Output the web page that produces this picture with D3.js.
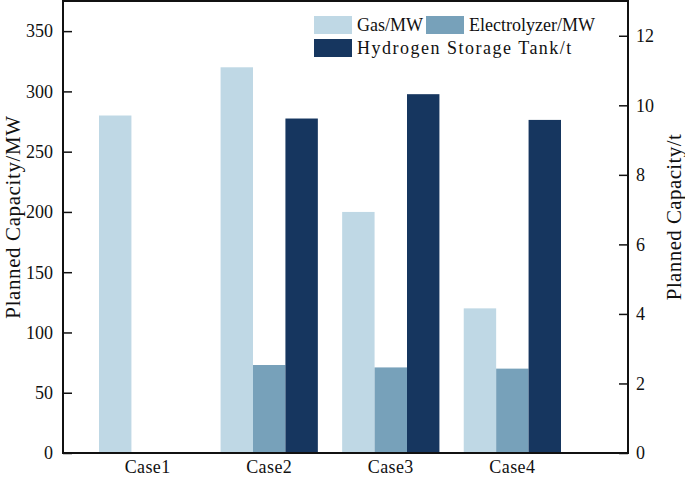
<!DOCTYPE html>
<html>
<head>
<meta charset="utf-8">
<script src="https://cdn.jsdelivr.net/npm/d3@7"></script>
<style>
  body { margin: 0; background: #fff; }
  text { font-family: "Liberation Serif", "Times New Roman", serif; fill: #111; }
</style>
</head>
<body>
<div id="chart"></div>
<script>
const cases = ["Case1", "Case2", "Case3", "Case4"]
const gasMW = [280, 320, 200, 120]
const electrolyzerMW = [0, 73, 71, 70]
const hydrogenTankT = [0, 9.62, 10.32, 9.58]
const seriesNames = ["Gas/MW", "Electrolyzer/MW", "Hydrogen Storage Tank/t"]
const leftTicks = [0, 50, 100, 150, 200, 250, 300, 350]
const rightTicks = [0, 2, 4, 6, 8, 10, 12]

const W = 685, H = 478
const plot = { left: 63, right: 628, top: 1, bottom: 453 }
const colors = ["#bfd8e5", "#77a1ba", "#16365f"]

const svg = d3.select("#chart").append("svg")
    .attr("width", W)
    .attr("height", H)

const x0 = d3.scaleBand()
    .domain(cases)
    .range([99, 561])
    .paddingInner(0.2)
    .paddingOuter(0)

const x1 = d3.scaleBand()
    .domain(seriesNames)
    .range([0, x0.bandwidth()])

const yLeft = d3.scaleLinear().domain([0, 375]).range([plot.bottom, plot.top])
const yRight = d3.scaleLinear().domain([0, 13]).range([plot.bottom, plot.top])

// rows for the bars, hydrogen goes on the right axis
const rows = []
cases.forEach((c, i) => {
    rows.push({ c, s: seriesNames[0], v: gasMW[i], y: yLeft, k: 0 })
    rows.push({ c, s: seriesNames[1], v: electrolyzerMW[i], y: yLeft, k: 1 })
    rows.push({ c, s: seriesNames[2], v: hydrogenTankT[i], y: yRight, k: 2 })
})

svg.append("g").selectAll("rect")
    .data(rows.filter(d => d.v > 0))
    .enter()
        .append("rect")
            .attr("x", d => x0(d.c) + x1(d.s))
            .attr("width", x1.bandwidth())
            .attr("y", d => d.y(d.v))
            .attr("height", d => plot.bottom - d.y(d.v))
            .attr("fill", d => colors[d.k])

// left axis, ticks inward
const leftAxis = svg.append("g")
    .attr("transform", `translate(${plot.left},0)`)
    .call(d3.axisRight(yLeft).tickValues(leftTicks).tickSize(9).tickFormat(""))
leftAxis.select(".domain").remove()
leftAxis.selectAll("line").attr("stroke", "#111").attr("stroke-width", 1.5)

svg.append("g").selectAll("text")
    .data(leftTicks)
    .enter()
        .append("text")
            .attr("x", plot.left - 10)
            .attr("y", d => yLeft(d))
            .attr("dy", "0.35em")
            .attr("text-anchor", "end")
            .attr("font-size", 18)
            .text(d => d)

const rightAxis = svg.append("g")
    .attr("transform", `translate(${plot.right},0)`)
    .call(d3.axisLeft(yRight).tickValues(rightTicks).tickSize(9).tickFormat(""))
rightAxis.select(".domain").remove()
rightAxis.selectAll("line").attr("stroke", "#111").attr("stroke-width", 1.5)

svg.append("g").selectAll("text")
    .data(rightTicks)
    .enter()
        .append("text")
            .attr("x", plot.right + 8)
            .attr("y", d => yRight(d))
            .attr("dy", "0.35em")
            .attr("font-size", 18)
            .text(d => d)

// frame
svg.append("rect")
    .attr("x", plot.left)
    .attr("y", plot.top)
    .attr("width", plot.right - plot.left)
    .attr("height", plot.bottom - plot.top)
    .attr("fill", "none")
    .attr("stroke", "#111")
    .attr("stroke-width", 2)

// category labels
svg.append("g").selectAll("text")
    .data(cases)
    .enter()
        .append("text")
            .attr("x", d => x0(d) + x0.bandwidth() / 2)
            .attr("y", 467)
            .attr("dy", "0.35em")
            .attr("text-anchor", "middle")
            .attr("font-size", 18)
            .attr("letter-spacing", 0.4)
            .text(d => d)

svg.append("text")
    .attr("transform", `translate(13, 217) rotate(-90)`)
    .attr("text-anchor", "middle")
    .attr("dy", "0.35em")
    .attr("font-size", 21)
    .attr("letter-spacing", 0.6)
    .text("Planned Capacity/MW")

svg.append("text")
    .attr("transform", `translate(674, 217) rotate(-90)`)
    .attr("text-anchor", "middle")
    .attr("dy", "0.35em")
    .attr("font-size", 21)
    .attr("letter-spacing", 0.4)
    .text("Planned Capacity/t")

// legend
const legendPos = [[314, 16], [426, 16], [314, 39]]
const legendSpacing = [0, 0, 1.5]
const legend = svg.append("g").selectAll("g")
    .data(seriesNames)
    .enter()
        .append("g")
            .attr("transform", (d, i) => `translate(${legendPos[i][0]},${legendPos[i][1]})`)
legend.append("rect")
    .attr("width", 38)
    .attr("height", 18)
    .attr("fill", (d, i) => colors[i])
legend.append("text")
    .attr("x", 43)
    .attr("y", 9)
    .attr("dy", "0.35em")
    .attr("font-size", 18)
    .attr("letter-spacing", (d, i) => legendSpacing[i])
    .text(d => d)
</script>
</body>
</html>
